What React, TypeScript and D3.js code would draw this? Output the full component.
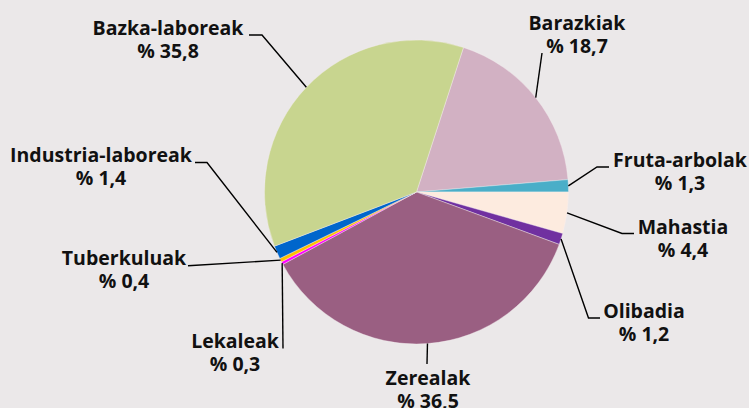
import React from "react";
import * as d3 from "d3";

const categories = [
  "Barazkiak",
  "Fruta-arbolak",
  "Mahastia",
  "Olibadia",
  "Zerealak",
  "Lekaleak",
  "Tuberkuluak",
  "Industria-laboreak",
  "Bazka-laboreak",
];
const values = [18.7, 1.3, 4.4, 1.2, 36.5, 0.3, 0.4, 1.4, 35.8];
const valueLabels = ["% 18,7", "% 1,3", "% 4,4", "% 1,2", "% 36,5", "% 0,3", "% 0,4", "% 1,4", "% 35,8"];
const colors = ["#d2b1c3", "#4aaec8", "#fdebdf", "#7030a0", "#9a5f82", "#ff00ff", "#ffc000", "#0066cc", "#c8d58f"];

// label layout: text centre x, first baseline y, leader bend points (after the edge point)
const labelLayout: { cx: number; by: number; pts: [number, number][] }[] = [
  { cx: 577, by: 30, pts: [[542, 53]] },
  { cx: 680, by: 167, pts: [[597, 167], [609, 167]] },
  { cx: 683, by: 234, pts: [[622, 233.5], [634, 233.5]] },
  { cx: 644, by: 318, pts: [[588.5, 318], [600, 318]] },
  { cx: 428, by: 385, pts: [[427, 364]] },
  { cx: 235, by: 348, pts: [[283, 348.5]] },
  { cx: 124, by: 265, pts: [[188, 265.7]] },
  { cx: 101, by: 162, pts: [[207, 162.5], [195, 162.5]] },
  { cx: 168, by: 35, pts: [[262, 35], [249, 35]] },
];

const W = 749;
const H = 408;
const CX = 416.5;
const CY = 192;
const R = 152;
const START = (18 * Math.PI) / 180;
const LINE_GAP = 23;

export default function App() {
  const pie = d3
    .pie<number>()
    .sort(null)
    .value((d) => d)
    .startAngle(START)
    .endAngle(START + 2 * Math.PI);
  const arcs = pie(values);
  const arcGen = d3.arc<d3.PieArcDatum<number>>().innerRadius(0).outerRadius(R);
  const edgeArc = d3.arc<d3.PieArcDatum<number>>().innerRadius(R).outerRadius(R);
  const line = d3.line();

  return (
    <svg
      width={W}
      height={H}
      style={{ position: "fixed", left: 0, top: 0, background: "#ebe8e9" }}
      fontFamily="'Open Sans', sans-serif"
    >
      <rect x={0} y={0} width={W} height={H} fill="#ebe8e9" />
      <g transform={`translate(${CX},${CY})`}>
        {arcs.map((a, i) => (
          <path key={i} d={arcGen(a) || ""} fill={colors[i]} stroke="#f4eef0" strokeWidth={0.4} />
        ))}
      </g>
      {arcs.map((a, i) => {
        const [ex, ey] = edgeArc.centroid(a);
        const pts: [number, number][] = [[CX + ex, CY + ey], ...labelLayout[i].pts];
        return (
          <path key={"l" + i} d={line(pts) || ""} fill="none" stroke="#000" strokeWidth={1.4} />
        );
      })}
      {categories.map((c, i) => (
        <g key={"t" + i} fontSize={19.5} fontWeight={700} fill="#111" textAnchor="middle">
          <text x={labelLayout[i].cx} y={labelLayout[i].by}>
            {c}
          </text>
          <text x={labelLayout[i].cx} y={labelLayout[i].by + LINE_GAP}>
            {valueLabels[i]}
          </text>
        </g>
      ))}
    </svg>
  );
}
